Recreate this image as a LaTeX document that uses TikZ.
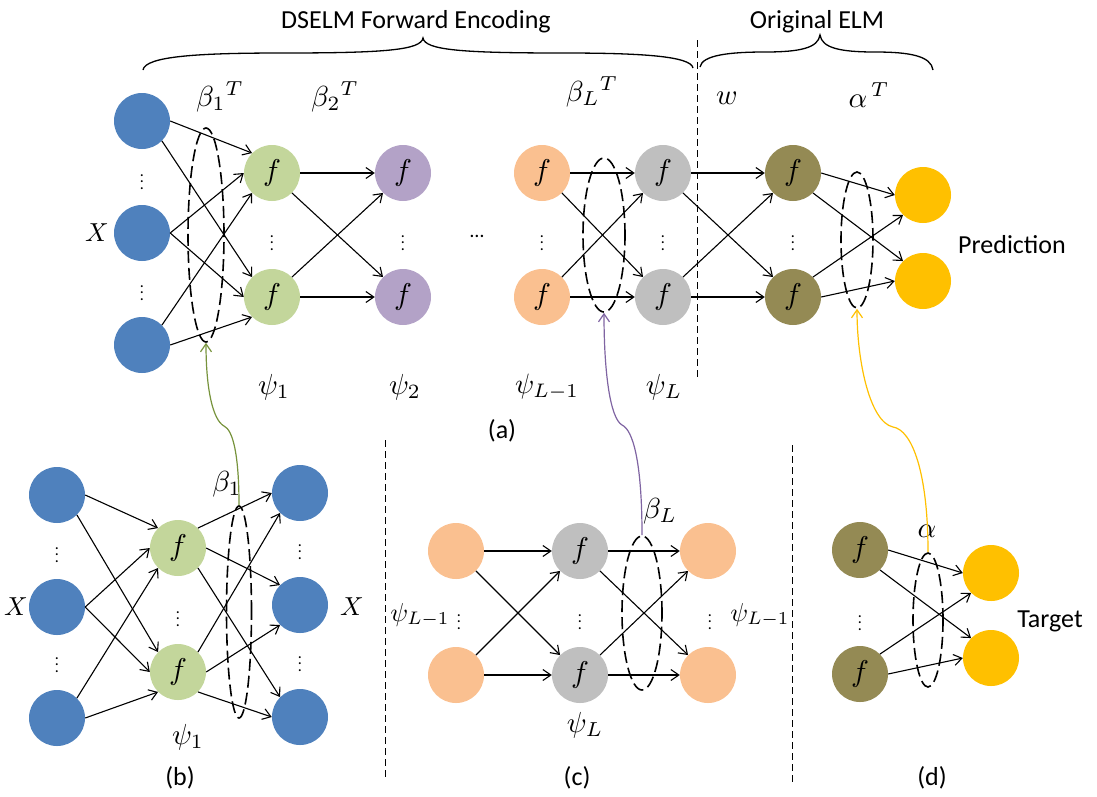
\documentclass[tikz,border=0pt]{standalone}
\usepackage{fontspec}
\setmainfont{Carlito}
\usetikzlibrary{arrows.meta,shapes.geometric}
\definecolor{cBlue}{HTML}{4F81BD}
\definecolor{cGreen}{HTML}{C3D69B}
\definecolor{cPurple}{HTML}{B3A2C7}
\definecolor{cOrange}{HTML}{FAC090}
\definecolor{cGray}{HTML}{BFBFBF}
\definecolor{cOlive}{HTML}{948A54}
\definecolor{cYellow}{HTML}{FFC000}
\definecolor{lGreen}{HTML}{77933C}
\definecolor{lPurple}{HTML}{7F64A2}
\definecolor{lYellow}{HTML}{FFC000}
\newcommand\mathlab[2][2.9]{\scalebox{#1}{$#2$}}
\newcommand\fsym{\scalebox{3.0}{$f$}}
\newcommand\vdt{\scalebox{1.6}{$\vdots$}}
\newcommand\xlinks[4]{%
  \draw[arr] (#1.east) -- (#3.west);
  \draw[arr] (#1.south east) -- (#4.north west);
  \draw[arr] (#2.north east) -- (#3.south west);
  \draw[arr] (#2.east) -- (#4.west);}
\tikzset{
  neuron/.style={circle, minimum size=56pt, inner sep=0pt, font=\fontsize{10}{12}\selectfont},
  nb/.style={neuron, fill=cBlue},
  ng/.style={neuron, fill=cGreen},
  np/.style={neuron, fill=cPurple},
  no/.style={neuron, fill=cOrange},
  nr/.style={neuron, fill=cGray},
  nv/.style={neuron, fill=cOlive},
  ny/.style={neuron, fill=cYellow},
  arr/.style={line width=1.1pt, -{Straight Barb[length=8pt,width=11pt]}},
  grp/.style={draw, ellipse, inner sep=0pt, dash pattern=on 12pt off 5pt, line width=1.6pt},
  vdiv/.style={line width=1pt, dash pattern=on 7pt off 4pt},
  mlab/.style={font=\fontsize{10}{12}\selectfont, inner sep=0pt},
  tlab/.style={font=\fontsize{26}{30}\selectfont, inner sep=0pt, anchor=base},
  vd/.style={font=\fontsize{10}{12}\selectfont, inner sep=0pt},
  link/.style={line width=1.2pt, -{Straight Barb[length=8pt,width=11pt]}},
  brc/.style={line width=1.3pt}
}
\begin{document}
\begin{tikzpicture}[x=1pt,y=-1pt]
\useasboundingbox (0,0) rectangle (1097,796);

% ---------- titles and braces ----------
\node[tlab] (tDS) at (416,28) {DSELM Forward Encoding};
\node[tlab] (tOE) at (817,28) {Original ELM};
\draw[brc] (143,70) .. controls (145,56) and (200,53) .. (283,53)
  .. controls (385,53) and (421,50) .. (423,38)
  .. controls (425,50) and (461,53) .. (563,53)
  .. controls (640,53) and (691,56) .. (693,68);
\draw[brc] (700,67) .. controls (702,55) and (730,52) .. (765,52)
  .. controls (800,52) and (818,48) .. (820,35)
  .. controls (822,48) and (840,52) .. (875,52)
  .. controls (910,52) and (931,56) .. (933,70);
\draw[vdiv] (697,40) -- (697,380);

% ---------- panel (a) ----------
\node[nb] (bA1) at (142,121) {};
\node[nb] (bA2) at (142,233) {};
\node[nb] (bA3) at (142,345) {};
\node[ng] (gA1) at (272,173) {\fsym};
\node[ng] (gA2) at (272,297) {\fsym};
\node[np] (pA1) at (403,173) {\fsym};
\node[np] (pA2) at (403,297) {\fsym};
\node[no] (oA1) at (542,173) {\fsym};
\node[no] (oA2) at (542,297) {\fsym};
\node[nr] (rA1) at (663,173) {\fsym};
\node[nr] (rA2) at (663,297) {\fsym};
\node[nv] (vA1) at (793,173) {\fsym};
\node[nv] (vA2) at (793,297) {\fsym};
\node[ny] (tA1) at (923,195) {};
\node[ny] (tA2) at (923,281) {};

\node[vd] (dA1) at (142,177) {\vdt};
\node[vd] (dA2) at (142,288) {\vdt};
\node[vd] (dA3) at (272,238) {\vdt};
\node[vd] (dA4) at (403,238) {\vdt};
\node[vd] (dA5) at (542,238) {\vdt};
\node[vd] (dA6) at (663,238) {\vdt};
\node[vd] (dA7) at (793,238) {\vdt};
\node[font=\fontsize{20}{24}\selectfont, inner sep=0pt] (hA) at (477,236) {\ldots};

\draw[arr] (bA1.east) -- (gA1.north west);
\draw[arr] (bA1.south east) -- (gA2.north west);
\draw[arr] (bA2.east) -- (gA1.west);
\draw[arr] (bA2.east) -- (gA2.west);
\draw[arr] (bA3.north east) -- (gA1.south west);
\draw[arr] (bA3.east) -- (gA2.south west);
\xlinks{gA1}{gA2}{pA1}{pA2}
\xlinks{oA1}{oA2}{rA1}{rA2}
\xlinks{rA1}{rA2}{vA1}{vA2}
\xlinks{vA1}{vA2}{tA1}{tA2}

\node[grp, minimum width=36pt, minimum height=214pt] (E1a) at (206,235) {};
\node[grp, minimum width=42pt, minimum height=154pt] (ELa) at (604,235) {};
\node[grp, minimum width=32pt, minimum height=136pt] (EAa) at (857,240) {};

\node[mlab] (lb1T) at (220,97) {\mathlab{\beta_1{}^T}};
\node[mlab] (lb2T) at (335,97) {\mathlab{\beta_2{}^T}};
\node[mlab] (lbLT) at (592,92) {\mathlab{\beta_L{}^T}};
\node[mlab] (lw) at (727,98) {\mathlab{w}};
\node[mlab] (laT) at (869,95) {\mathlab{\alpha^{\,T}}};
\node[mlab] (lXa) at (97,233) {\mathlab[2.6]{X}};
\node[mlab] (lp1) at (274,387) {\mathlab{\psi_1}};
\node[mlab] (lp2) at (405,387) {\mathlab{\psi_2}};
\node[mlab] (lpL1) at (547,387) {\mathlab[2.8]{\psi_{L-1}}};
\node[mlab] (lpL) at (664,387) {\mathlab{\psi_L}};
\node[tlab] (tPred) at (1012,253) {Prediction};
\node[tlab] (ta) at (502,438) {(a)};

% ---------- panel (b) ----------
\node[nb] (bB1) at (57,495) {};
\node[nb] (bB2) at (57,607) {};
\node[nb] (bB3) at (57,718) {};
\node[ng] (gB1) at (178,548) {\fsym};
\node[ng] (gB2) at (178,672) {\fsym};
\node[nb] (bB4) at (300,493) {};
\node[nb] (bB5) at (300,605) {};
\node[nb] (bB6) at (300,717) {};
\node[vd] (dB1) at (57,550) {\vdt};
\node[vd] (dB2) at (57,660) {\vdt};
\node[vd] (dB3) at (178,614) {\vdt};
\node[vd] (dB4) at (300,547) {\vdt};
\node[vd] (dB5) at (300,659) {\vdt};

\draw[arr] (bB1.east) -- (gB1.north west);
\draw[arr] (bB1.south east) -- (gB2.north west);
\draw[arr] (bB2.east) -- (gB1.west);
\draw[arr] (bB2.east) -- (gB2.west);
\draw[arr] (bB3.north east) -- (gB1.south west);
\draw[arr] (bB3.east) -- (gB2.south west);
\draw[arr] (gB1.north east) -- (bB4.west);
\draw[arr] (gB1.east) -- (bB5.north west);
\draw[arr] (gB1.south east) -- (bB6.north west);
\draw[arr] (gB2.north east) -- (bB4.south west);
\draw[arr] (gB2.east) -- (bB5.south west);
\draw[arr] (gB2.south east) -- (bB6.west);

\node[grp, minimum width=25pt, minimum height=212pt] (E1b) at (239,612) {};
\node[mlab] (lXb1) at (16,607) {\mathlab[2.6]{X}};
\node[mlab] (lXb2) at (352,607) {\mathlab[2.6]{X}};
\node[mlab] (lb1) at (227,484) {\mathlab{\beta_1}};
\node[mlab] (lp1b) at (188,737) {\mathlab{\psi_1}};
\node[tlab] (tb) at (180,785) {(b)};

% ---------- panel (c) ----------
\draw[vdiv] (385,440) -- (385,778);
\node[no] (oC1) at (456,551) {};
\node[no] (oC2) at (456,675) {};
\node[nr] (rC1) at (580,551) {\fsym};
\node[nr] (rC2) at (580,675) {\fsym};
\node[no] (oC3) at (708,551) {};
\node[no] (oC4) at (708,675) {};
\node[vd] (dC1) at (459,617) {\vdt};
\node[vd] (dC2) at (580,617) {\vdt};
\node[vd] (dC3) at (710,617) {\vdt};
\xlinks{oC1}{oC2}{rC1}{rC2}
\xlinks{rC1}{rC2}{oC3}{oC4}
\node[grp, minimum width=40pt, minimum height=154pt] (ELc) at (642,613) {};
\node[mlab] (lbL) at (660,511) {\mathlab{\beta_L}};
\node[mlab] (lpLc1) at (420,615) {\mathlab[2.6]{\psi_{L-1}}};
\node[mlab] (lpLc2) at (760,615) {\mathlab[2.6]{\psi_{L-1}}};
\node[mlab] (lpLc) at (585,725) {\mathlab{\psi_L}};
\node[tlab] (tc) at (577,785) {(c)};

% ---------- panel (d) ----------
\draw[vdiv] (792,445) -- (792,783);
\node[nv] (vD1) at (860,550) {\fsym};
\node[nv] (vD2) at (860,674) {\fsym};
\node[ny] (tD1) at (991,573) {};
\node[ny] (tD2) at (991,658) {};
\node[vd] (dD1) at (860,618) {\vdt};
\xlinks{vD1}{vD2}{tD1}{tD2}
\node[grp, minimum width=30pt, minimum height=134pt] (EAd) at (928,620) {};
\node[mlab] (la) at (927,531) {\mathlab{\alpha}};
\node[tlab] (tTarget) at (1050,627) {Target};
\node[tlab] (td) at (932,785) {(d)};

% ---------- links between panels ----------
\draw[link, lGreen] (E1b.north) .. controls (239,455) and (233,430) .. (224,426)
  .. controls (213,420) and (206,390) .. (E1a.south);
\draw[link, lPurple] (ELc.north) .. controls (642,462) and (633,430) .. (622,425)
  .. controls (610,418) and (604,372) .. (ELa.south);
\draw[link, lYellow] (EAd.north) .. controls (928,472) and (912,430) .. (893,427)
  .. controls (870,422) and (857,362) .. (EAa.south);
\end{tikzpicture}
\end{document}
